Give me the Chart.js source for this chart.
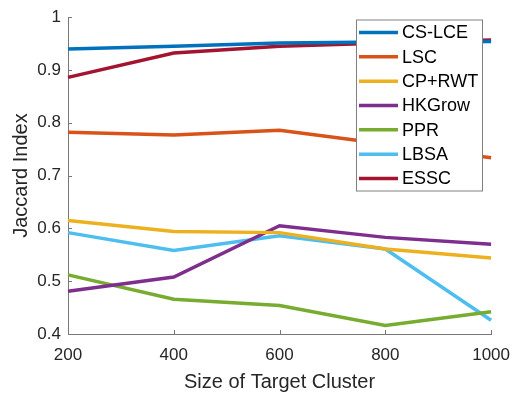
<!DOCTYPE html>
<html>
<head>
<meta charset="utf-8">
<script src="https://cdn.jsdelivr.net/npm/chart.js@4/dist/chart.umd.min.js"></script>
<style>
html,body{margin:0;padding:0;background:#fff;}
#wrap{width:521px;height:394px;position:relative;}
</style>
</head>
<body>
<div id="wrap"><canvas id="c" width="521" height="394"></canvas></div>
<script>
const categories = ['200', '400', '600', '800', '1000'];
const seriesNames = ['CS-LCE', 'LSC', 'CP+RWT', 'HKGrow', 'PPR', 'LBSA', 'ESSC'];
const csLce  = [0.940, 0.945, 0.951, 0.953, 0.954];
const lsc    = [0.782, 0.777, 0.786, 0.760, 0.734];
const cpRwt  = [0.615, 0.594, 0.592, 0.561, 0.544];
const hkGrow = [0.481, 0.508, 0.605, 0.583, 0.570];
const ppr    = [0.512, 0.466, 0.454, 0.416, 0.442];
const lbsa   = [0.592, 0.558, 0.586, 0.561, 0.426];
const essc   = [0.886, 0.932, 0.945, 0.951, 0.957];
const yTicks = [0.4, 0.5, 0.6, 0.7, 0.8, 0.9, 1];
const xTitle = 'Size of Target Cluster';
const yTitle = 'Jaccard Index';

const colors = ['#0072BD', '#D95319', '#EDB120', '#7E2F8E', '#77AC30', '#4DBEEE', '#A2142F'];
const seriesValues = [csLce, lsc, cpRwt, hkGrow, ppr, lbsa, essc];
const FONT = '"Liberation Sans", Arial, Helvetica, sans-serif';
const TEXT = '#262626';
const AXIS = '#777777';

const inwardTicks = {
  id: 'inwardTicks',
  afterDatasetsDraw(chart) {
    const ctx = chart.ctx, x = chart.scales.x, y = chart.scales.y, a = chart.chartArea;
    ctx.save();
    ctx.strokeStyle = AXIS;
    ctx.lineWidth = 1;
    ctx.beginPath();
    x.ticks.forEach((t, i) => {
      const px = Math.round(x.getPixelForTick(i)) + 0.5;
      ctx.moveTo(px, a.bottom); ctx.lineTo(px, a.bottom - 4);
    });
    y.ticks.forEach((t, i) => {
      const py = Math.round(y.getPixelForTick(i)) + 0.5;
      ctx.moveTo(a.left, py); ctx.lineTo(a.left + 4, py);
    });
    ctx.stroke();
    ctx.restore();
  }
};

const boxLegend = {
  id: 'boxLegend',
  afterDatasetsDraw(chart) {
    const ctx = chart.ctx;
    const left = 356, top = 19.5, w = 126, h = 171;
    ctx.save();
    ctx.fillStyle = '#ffffff';
    ctx.fillRect(left, top, w, h);
    ctx.strokeStyle = '#808080';
    ctx.lineWidth = 1;
    ctx.strokeRect(left + 0.5, top + 0.5, w, h);
    ctx.font = '18px ' + FONT;
    ctx.textBaseline = 'middle';
    chart.data.datasets.forEach((ds, i) => {
      const cy = 32.5 + i * 24.33;
      ctx.strokeStyle = ds.borderColor;
      ctx.lineWidth = 3.5;
      ctx.beginPath();
      ctx.moveTo(359, cy); ctx.lineTo(398, cy);
      ctx.stroke();
      ctx.fillStyle = '#000000';
      ctx.fillText(ds.label, 402, cy + 1);
    });
    ctx.restore();
  }
};

new Chart(document.getElementById('c'), {
  type: 'line',
  data: {
    labels: categories,
    datasets: seriesNames.map((n, i) => ({
      label: n,
      data: seriesValues[i],
      borderColor: colors[i],
      backgroundColor: colors[i],
      borderWidth: 3.5,
      pointRadius: 0,
      tension: 0,
      fill: false
    }))
  },
  options: {
    responsive: false,
    animation: false,
    devicePixelRatio: 1,
    layout: { padding: { top: 9, right: 28, left: 0, bottom: 0 } },
    plugins: { legend: { display: false }, tooltip: { enabled: false } },
    scales: {
      x: {
        type: 'category',
        offset: false,
        grid: { display: false, drawTicks: false },
        border: { display: true, color: AXIS, width: 1 },
        ticks: { color: TEXT, font: { family: FONT, size: 17 }, padding: 11, maxRotation: 0, autoSkip: false },
        title: { display: true, text: xTitle, color: TEXT, font: { family: FONT, size: 20 }, padding: { top: 0, bottom: 0 } },
        afterFit(s) { s.height = 60; }
      },
      y: {
        min: 0.4, max: 1,
        afterBuildTicks(s) { s.ticks = yTicks.map(v => ({ value: v })); },
        grid: { display: false, drawTicks: false },
        border: { display: true, color: AXIS, width: 1 },
        ticks: {
          color: TEXT, font: { family: FONT, size: 17 }, padding: 7,
          callback: v => String(Number(Number(v).toFixed(1)))
        },
        title: { display: true, text: yTitle, color: TEXT, font: { family: FONT, size: 20 }, padding: { top: 9, bottom: 0 } },
        afterFit(s) { s.width = 68; }
      }
    }
  },
  plugins: [inwardTicks, boxLegend]
});
</script>
</body>
</html>
